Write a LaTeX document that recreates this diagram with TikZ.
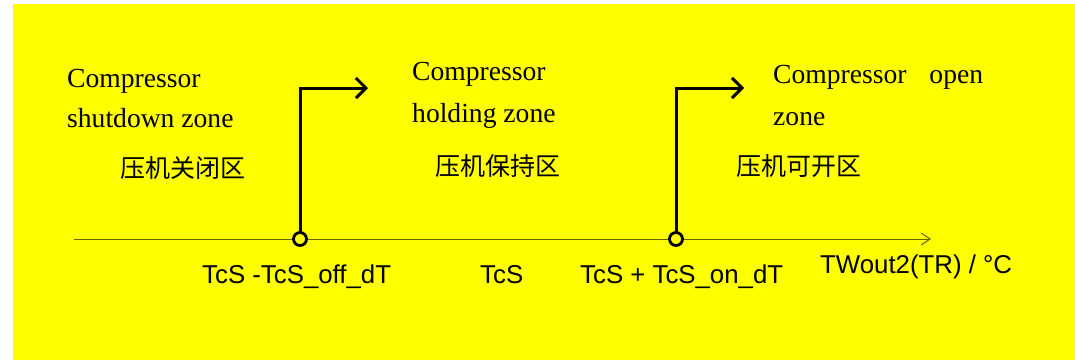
\documentclass[tikz,border=0pt]{standalone}
\usepackage{fontspec}
\setmainfont{Liberation Serif}
\newfontfamily\arialf{Liberation Sans}
\newfontfamily\cjk{Noto Sans CJK SC}
\usetikzlibrary{arrows.meta}
\definecolor{bgyellow}{RGB}{255,255,0}
\definecolor{axisgray}{RGB}{100,100,0}
\begin{document}
\begin{tikzpicture}[x=1pt,y=-1pt,
 lbl/.style={inner sep=0pt, anchor=base west, font=\fontsize{27.6}{32}\selectfont},
 cn/.style={inner sep=0pt, anchor=base west, font=\cjk\fontsize{25}{30}\selectfont},
 val/.style={inner sep=0pt, anchor=base west, font=\arialf\fontsize{25.8}{30}\selectfont},
 axisline/.style={line width=1pt, draw=axisgray, -{Straight Barb[length=9pt,width=12pt]}},
 sw/.style={line width=3pt, line cap=round, -{Straight Barb[length=10pt,width=20pt]}},
 pt/.style={circle, draw, line width=2.8pt, fill=bgyellow, minimum size=13pt, inner sep=0pt}]
\useasboundingbox (0,0) rectangle (1075,360);
\fill[white] (0,0) rectangle (1075,360);
\fill[bgyellow] (13,4) rectangle (1075,360);

% axis
\coordinate (a0) at (74,239);
\coordinate (a1) at (931,239);
\draw[axisline] (a0) -- (a1);

% switching points
\node[pt] (c1) at (300,239) {};
\node[pt] (c2) at (676,239) {};
\coordinate (b1) at (300,88);
\coordinate (t1) at (368,88);
\coordinate (b2) at (676,88);
\coordinate (t2) at (744,88);
\draw[sw] (c1.north) -- (b1) -- (t1);
\draw[sw] (c2.north) -- (b2) -- (t2);

% zone labels
\node[lbl] (z1a) at (67,87) {Compressor};
\node[lbl] (z1b) at (67,127) {shutdown zone};
\node[cn]  (z1c) at (120,177) {压机关闭区};
\node[lbl] (z2a) at (412,80) {Compressor};
\node[lbl] (z2b) at (412,122) {holding zone};
\node[cn]  (z2c) at (435,175) {压机保持区};
\node[lbl] (z3a) at (773,83) {Compressor\hspace{16pt} open};
\node[lbl] (z3b) at (773,125) {zone};
\node[cn]  (z3c) at (736,175) {压机可开区};

% axis values
\node[val] (v1) at (202,283) {TcS -TcS\_off\_dT};
\node[val] (v2) at (480,283) {TcS};
\node[val] (v3) at (580,283) {TcS + TcS\_on\_dT};
\node[val] (v4) at (820,273) {TWout2(TR) / °C};
\end{tikzpicture}
\end{document}
